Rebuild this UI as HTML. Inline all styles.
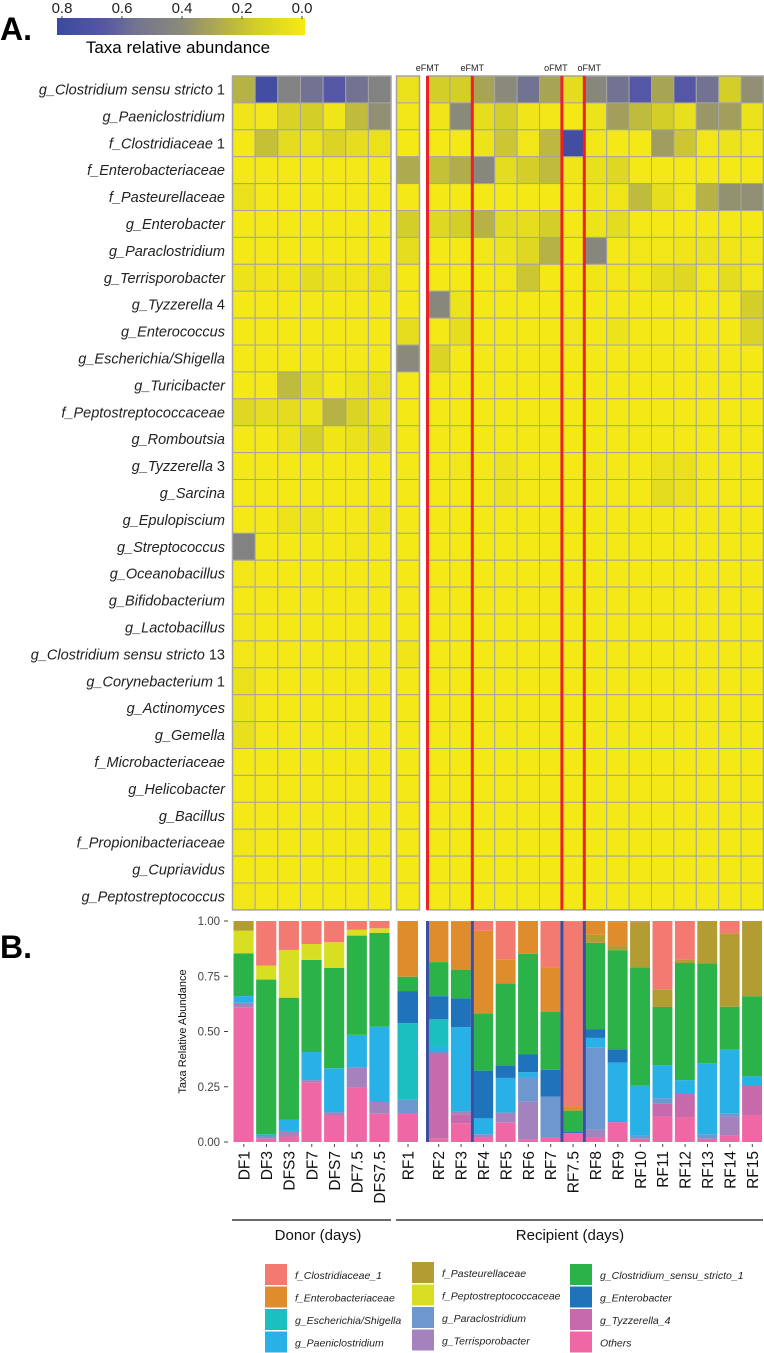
<!DOCTYPE html>
<html><head><meta charset="utf-8">
<style>
html,body{margin:0;padding:0;background:#fff;}
svg{display:block;font-family:"Liberation Sans",sans-serif;}
</style></head>
<body>
<svg id="fig" width="764" height="1353" viewBox="0 0 764 1353" xmlns="http://www.w3.org/2000/svg">
<defs>
<linearGradient id="cbgrad" x1="0" x2="1" y1="0" y2="0">
<stop offset="0" stop-color="#3a4aa2"/>
<stop offset="0.19" stop-color="#5656a6"/>
<stop offset="0.31" stop-color="#727292"/>
<stop offset="0.5" stop-color="#8a8a7a"/>
<stop offset="0.62" stop-color="#a8a455"/>
<stop offset="0.81" stop-color="#d4cf28"/>
<stop offset="1" stop-color="#f6ea15"/>
</linearGradient>
</defs>
<text x="0" y="40" font-size="32" font-weight="bold">A.</text>
<text x="0" y="958" font-size="32" font-weight="bold">B.</text>
<g>
<rect x="57" y="18" width="248" height="17" fill="url(#cbgrad)"/>
</g>
<text x="178" y="53" font-size="17" text-anchor="middle">Taxa relative abundance</text>
<g id="cbticks"></g>
<g id="heat"></g>
<g id="bars"></g>
<g id="legend"></g>
</svg>
<script>
const NS="http://www.w3.org/2000/svg";
const samples=["DF1","DF3","DFS3","DF7","DFS7","DF7.5","DFS7.5","RF1","RF2","RF3","RF4","RF5","RF6","RF7","RF7.5","RF8","RF9","RF10","RF11","RF12","RF13","RF14","RF15"];
const taxaRows=[["g_Clostridium sensu stricto"," 1"],["g_Paeniclostridium",""],["f_Clostridiaceae"," 1"],["f_Enterobacteriaceae",""],["f_Pasteurellaceae",""],["g_Enterobacter",""],["g_Paraclostridium",""],["g_Terrisporobacter",""],["g_Tyzzerella"," 4"],["g_Enterococcus",""],["g_Escherichia/Shigella",""],["g_Turicibacter",""],["f_Peptostreptococcaceae",""],["g_Romboutsia",""],["g_Tyzzerella"," 3"],["g_Sarcina",""],["g_Epulopiscium",""],["g_Streptococcus",""],["g_Oceanobacillus",""],["g_Bifidobacterium",""],["g_Lactobacillus",""],["g_Clostridium sensu stricto"," 13"],["g_Corynebacterium"," 1"],["g_Actinomyces",""],["g_Gemella",""],["f_Microbacteriaceae",""],["g_Helicobacter",""],["g_Bacillus",""],["f_Propionibacteriaceae",""],["g_Cupriavidus",""],["g_Peptostreptococcus",""]];
const colorbarTicks=["0.8","0.6","0.4","0.2","0.0"];
const colorbarTickValues=[0.8,0.6,0.4,0.2,0.0];
const h1=[0.25,0.8,0.45,0.55,0.7,0.55,0.45, 0.05, 0.15,0.15,0.3,0.4,0.55,0.3,0.08,0.42,0.55,0.7,0.3,0.7,0.55,0.15,0.38];
const h2=[0.03,0.02,0.13,0.15,0.03,0.22,0.38, 0.02, 0.03,0.4,0.07,0.15,0.03,0.02,0.01,0.04,0.32,0.22,0.15,0.06,0.35,0.32,0.05];
const h3=[0.01,0.2,0.08,0.05,0.12,0.07,0.05, 0.01, 0.01,0.01,0.04,0.18,0.02,0.23,0.8,0.02,0.01,0.01,0.33,0.18,0.02,0.04,0.02];
const h4=[0.01,0.01,0.01,0.01,0.01,0.01,0.01, 0.28, 0.2,0.27,0.42,0.08,0.15,0.22,0.03,0.06,0.1,0.01,0.01,0.01,0.01,0.01,0.01];
const h5=[0.05,0.01,0.01,0.01,0.01,0.01,0.01, 0.01, 0.01,0.01,0.01,0.01,0.01,0.01,0.01,0.03,0.03,0.22,0.07,0.02,0.25,0.37,0.38];
const h6=[0.01,0.01,0.01,0.01,0.01,0.01,0.01, 0.15, 0.1,0.15,0.25,0.08,0.07,0.15,0.01,0.04,0.08,0.01,0.01,0.01,0.01,0.01,0.01];
const h7=[0.01,0.01,0.01,0.01,0.01,0.01,0.01, 0.07, 0.01,0.01,0.02,0.04,0.1,0.25,0.01,0.42,0.01,0.02,0.02,0.03,0.04,0.03,0.02];
const h8=[0.04,0.03,0.03,0.08,0.04,0.03,0.05, 0.01, 0.01,0.01,0.01,0.02,0.18,0.01,0.01,0.03,0.02,0.02,0.07,0.1,0.02,0.08,0.02];
const h9=[0.01,0.01,0.01,0.01,0.01,0.01,0.01, 0.01, 0.42,0.04,0.01,0.01,0.01,0.01,0.01,0.01,0.01,0.01,0.01,0.01,0.01,0.01,0.15];
const h10=[0.01,0.01,0.01,0.01,0.01,0.01,0.01, 0.07, 0.01,0.07,0.01,0.01,0.01,0.01,0.02,0.01,0.04,0.01,0.01,0.01,0.01,0.01,0.12];
const h11=[0.01,0.01,0.01,0.01,0.01,0.01,0.01, 0.4, 0.12,0.01,0.01,0.01,0.01,0.01,0.01,0.01,0.01,0.01,0.01,0.01,0.01,0.01,0.01];
const h12=[0.01,0.01,0.22,0.08,0.01,0.04,0.05, 0.01, 0.01,0.01,0.01,0.01,0.01,0.01,0.01,0.01,0.01,0.01,0.01,0.01,0.01,0.01,0.01];
const h13=[0.1,0.07,0.08,0.04,0.25,0.12,0.04, 0.01, 0.01,0.01,0.01,0.01,0.01,0.01,0.01,0.01,0.01,0.01,0.01,0.01,0.01,0.01,0.01];
const h14=[0.01,0.01,0.04,0.14,0.03,0.05,0.07, 0.01, 0.01,0.01,0.01,0.01,0.01,0.01,0.01,0.01,0.01,0.01,0.01,0.01,0.01,0.01,0.01];
const h15=[0.01,0.01,0.01,0.01,0.01,0.01,0.01, 0.01, 0.01,0.02,0.01,0.04,0.01,0.01,0.01,0.02,0.01,0.01,0.05,0.05,0.01,0.01,0.01];
const h16=[0.01,0.01,0.01,0.01,0.01,0.01,0.01, 0.01, 0.01,0.01,0.01,0.04,0.01,0.01,0.01,0.01,0.01,0.01,0.08,0.05,0.01,0.01,0.01];
const h17=[0.01,0.01,0.04,0.04,0.01,0.01,0.03, 0.01, 0.01,0.01,0.01,0.01,0.01,0.01,0.01,0.01,0.01,0.01,0.01,0.01,0.01,0.01,0.01];
const h18=[0.45,0.01,0.01,0.01,0.01,0.02,0.01, 0.01, 0.01,0.01,0.01,0.01,0.01,0.01,0.01,0.01,0.01,0.01,0.01,0.01,0.01,0.01,0.01];
const h19=[0.02,0.01,0.01,0.01,0.01,0.01,0.01, 0.01, 0.01,0.01,0.01,0.01,0.01,0.01,0.01,0.01,0.01,0.01,0.01,0.01,0.01,0.01,0.01];
const h20=[0.01,0.01,0.01,0.01,0.01,0.01,0.01, 0.01, 0.01,0.01,0.01,0.01,0.01,0.01,0.01,0.01,0.01,0.01,0.01,0.01,0.01,0.01,0.01];
const h21=[0.02,0.01,0.01,0.01,0.01,0.01,0.01, 0.01, 0.01,0.01,0.01,0.01,0.01,0.01,0.01,0.01,0.01,0.01,0.01,0.01,0.01,0.01,0.01];
const h22=[0.02,0.01,0.01,0.01,0.01,0.01,0.01, 0.03, 0.01,0.01,0.01,0.01,0.01,0.01,0.01,0.01,0.01,0.01,0.01,0.01,0.01,0.01,0.01];
const h23=[0.05,0.01,0.01,0.01,0.01,0.01,0.01, 0.01, 0.01,0.01,0.01,0.01,0.01,0.01,0.01,0.01,0.01,0.01,0.01,0.01,0.01,0.01,0.01];
const h24=[0.04,0.01,0.01,0.01,0.01,0.01,0.01, 0.01, 0.01,0.01,0.01,0.01,0.01,0.01,0.01,0.01,0.01,0.01,0.01,0.01,0.01,0.01,0.01];
const h25=[0.06,0.01,0.01,0.01,0.01,0.01,0.01, 0.01, 0.01,0.01,0.01,0.01,0.01,0.01,0.01,0.01,0.01,0.01,0.01,0.01,0.01,0.01,0.01];
const h26=[0.01,0.01,0.01,0.01,0.01,0.01,0.01, 0.01, 0.01,0.01,0.01,0.01,0.01,0.01,0.01,0.01,0.01,0.01,0.01,0.01,0.01,0.01,0.01];
const h27=[0.01,0.01,0.01,0.01,0.01,0.01,0.01, 0.01, 0.01,0.01,0.01,0.01,0.01,0.01,0.01,0.01,0.01,0.01,0.01,0.01,0.01,0.01,0.01];
const h28=[0.01,0.01,0.01,0.01,0.01,0.01,0.01, 0.01, 0.01,0.01,0.01,0.01,0.01,0.01,0.01,0.01,0.01,0.01,0.01,0.01,0.01,0.01,0.01];
const h29=[0.02,0.01,0.01,0.01,0.01,0.01,0.01, 0.01, 0.01,0.01,0.01,0.01,0.01,0.01,0.01,0.01,0.01,0.01,0.01,0.01,0.01,0.01,0.01];
const h30=[0.01,0.01,0.01,0.01,0.01,0.01,0.01, 0.01, 0.01,0.01,0.01,0.01,0.01,0.01,0.01,0.01,0.01,0.01,0.01,0.01,0.01,0.01,0.01];
const h31=[0.02,0.01,0.01,0.01,0.01,0.01,0.01, 0.01, 0.01,0.01,0.01,0.01,0.01,0.01,0.01,0.01,0.01,0.01,0.01,0.01,0.01,0.01,0.01];
const heatValues=[h1,h2,h3,h4,h5,h6,h7,h8,h9,h10,h11,h12,h13,h14,h15,h16,h17,h18,h19,h20,h21,h22,h23,h24,h25,h26,h27,h28,h29,h30,h31];
const treatmentLabels=["eFMT","eFMT","oFMT","oFMT"];
const treatmentBefore=["RF2","RF4","RF7.5","RF8"];

const seriesNames=["Others","g_Tyzzerella_4","g_Terrisporobacter","g_Paraclostridium","g_Paeniclostridium","g_Escherichia/Shigella","g_Enterobacter","g_Clostridium_sensu_stricto_1","f_Peptostreptococcaceae","f_Pasteurellaceae","f_Enterobacteriaceae","f_Clostridiaceae_1"];
const seriesColors=["#ef67a5","#c76aab","#a482be","#6e96cf","#27b1e6","#1cbfbf","#1f73bb","#2bb34a","#d8df22","#b39c32","#de8c2c","#f27a70"];
const others=[0.61,0.015,0.025,0.27,0.12,0.247,0.128, 0.127, 0.015,0.085,0.02,0.087,0.01,0.02,0.04,0.02,0.09,0.015,0.115,0.113,0.015,0.03,0.122];
const tyzzerella4=[0,0,0,0,0,0,0, 0, 0.39,0.04,0,0,0,0,0,0,0,0,0.06,0.104,0,0,0.136];
const terrisporobacter=[0.02,0.01,0.025,0.01,0.014,0.089,0.053, 0, 0,0.015,0.015,0.046,0.172,0,0,0.035,0,0,0,0,0,0.085,0];
const paraclostridium=[0,0,0,0,0,0,0, 0.064, 0,0,0,0,0.11,0.185,0,0.374,0,0.014,0.023,0,0.02,0.015,0];
const paeniclostridium=[0.03,0.01,0.05,0.127,0.2,0.149,0.341, 0, 0.025,0.38,0.072,0.157,0.024,0,0,0.042,0.27,0.226,0.15,0.063,0.322,0.288,0.039];
const escherichia=[0,0,0,0,0,0,0, 0.347, 0.125,0,0,0,0,0,0,0,0,0,0,0,0,0,0];
const enterobacter=[0,0,0,0,0,0,0, 0.145, 0.105,0.13,0.216,0.057,0.08,0.122,0.005,0.038,0.06,0,0,0,0,0,0];
const clostridiumSS1=[0.194,0.70,0.553,0.417,0.454,0.449,0.424, 0.065, 0.154,0.13,0.259,0.371,0.456,0.263,0.097,0.392,0.448,0.535,0.263,0.53,0.451,0.194,0.363];
const peptostrep=[0.102,0.063,0.216,0.072,0.116,0.026,0.021, 0, 0,0,0,0,0,0,0,0,0,0,0,0,0,0,0];
const pasteurellaceae=[0.044,0,0,0,0,0,0, 0, 0,0,0,0,0,0,0,0.037,0.023,0.205,0.08,0.014,0.192,0.332,0.34];
const enterobacteriaceae=[0,0,0,0,0,0,0, 0.252, 0.184,0.217,0.374,0.109,0.148,0.2,0.019,0.063,0.104,0,0,0,0,0,0];
const clostridiaceae1=[0,0.195,0.131,0.104,0.094,0.04,0.033, 0, 0,0,0.044,0.173,0,0.21,0.835,0,0,0.005,0.312,0.176,0,0.056,0];
const seriesValues=[others,tyzzerella4,terrisporobacter,paraclostridium,paeniclostridium,escherichia,enterobacter,clostridiumSS1,peptostrep,pasteurellaceae,enterobacteriaceae,clostridiaceae1];
const yTicks=[0,0.25,0.5,0.75,1.0];
const yTickLabels=["0.00","0.25","0.50","0.75","1.00"];
const legendOrder=["f_Clostridiaceae_1","f_Enterobacteriaceae","g_Escherichia/Shigella","g_Paeniclostridium","f_Pasteurellaceae","f_Peptostreptococcaceae","g_Paraclostridium","g_Terrisporobacter","g_Clostridium_sensu_stricto_1","g_Enterobacter","g_Tyzzerella_4","Others"];

function colX(i){ if(i<7) return 232.5+i*22.65; if(i===7) return 396.5; return 427.5+(i-8)*22.4; }
function colW(i){ if(i<7) return 22.65; if(i===7) return 23; return 22.4; }
const rowTop=76, rowH=26.9;
function rowY(r){ return rowTop+r*rowH; }
const stops=[[0,[246,234,21]],[0.15,[212,207,40]],[0.3,[168,164,85]],[0.4,[138,138,122]],[0.55,[114,114,146]],[0.7,[86,86,166]],[0.85,[58,74,162]]];
function heatColor(v){
  if(v<=0) v=0; if(v>=0.85) v=0.85;
  for(let k=0;k<stops.length-1;k++){const a=stops[k],b=stops[k+1];
    if(v>=a[0]&&v<=b[0]){const t=(v-a[0])/(b[0]-a[0]);
      const c=a[1].map((x,j)=>Math.round(x+(b[1][j]-x)*t));return `rgb(${c[0]},${c[1]},${c[2]})`;}}
  return "rgb(58,74,162)";
}
function cbX(v){ return 302-(v/0.8)*240; }
const barY0=1142, barY1=921;
function yScale(v){ return barY0-(barY0-barY1)*v; }
function mk(tag,attrs,parent,text){const e=document.createElementNS(NS,tag);for(const k in attrs)e.setAttribute(k,attrs[k]);if(text!==undefined)e.textContent=text;parent.appendChild(e);return e;}

const cbt=document.getElementById('cbticks');
colorbarTicks.forEach((t,i)=>{
  const x=cbX(colorbarTickValues[i]);
  const tx=mk('text',{x:x,y:13,'font-size':15,'text-anchor':'middle',fill:'#222'},cbt,t);
  
  
  const tk=mk('line',{x1:x,x2:x,y1:16,y2:19,stroke:'#444','stroke-width':1},cbt);
  
  
});

const heat=document.getElementById('heat');
taxaRows.forEach((lab,r)=>{
  const t=mk('text',{x:225,y:rowY(r)+rowH/2+5,'font-size':14.5,'text-anchor':'end',fill:'#222'},heat);
  
  
  mk('tspan',{'font-style':'italic'},t,lab[0]);
  if(lab[1]) mk('tspan',{},t,lab[1]);
  heatValues[r].forEach((v,c)=>{
    const rc=mk('rect',{x:colX(c),y:rowY(r),width:colW(c),height:rowH,fill:heatColor(v),stroke:'#a4a4a4','stroke-width':1},heat);
    
    
  });
});
[[232.5,391],[396.5,419.5],[427.5,763.5]].forEach(b=>{
  const o=mk('rect',{x:b[0],y:rowTop,width:b[1]-b[0],height:rowH*taxaRows.length,fill:'none',stroke:'#a4a4a4','stroke-width':1.5},heat);
  
  
});
const labelShift=[0,0,-6,5];
treatmentBefore.forEach((s,i)=>{
  const x=colX(samples.indexOf(s));
  const ln=mk('line',{x1:x,x2:x,y1:rowTop,y2:rowY(taxaRows.length),stroke:'#ec2125','stroke-width':3},heat);
  
  
  const tl=mk('text',{x:x+labelShift[i],y:71,'font-size':9,'text-anchor':'middle',fill:'#222'},heat,treatmentLabels[i]);
  
  
});

const bars=document.getElementById('bars');
samples.forEach((s,c)=>{
  let acc=0;
  const bx=colX(c)+1, bw=colW(c)-2.5;
  seriesValues.forEach((arr,k)=>{
    const v=arr[c]; if(v<=0){return;}
    const top=acc+v;
    const y1=yScale(Math.min(top,1)), y0=yScale(acc);
    const r=mk('rect',{x:bx,y:y1,width:bw,height:Math.max(0,y0-y1),fill:seriesColors[k]},bars);
    
    
    acc=top;
  });
  if(acc<1){
    let kk=seriesValues.length-1; for(let k=seriesValues.length-1;k>=0;k--){if(seriesValues[k][c]>0){kk=k;break;}}
    const r=mk('rect',{x:bx,y:yScale(1),width:bw,height:yScale(acc)-yScale(1),fill:seriesColors[kk]},bars);
    
    
  }
  const cx=colX(c)+colW(c)/2;
  const tk=mk('line',{x1:cx,x2:cx,y1:barY0+2,y2:barY0+5,stroke:'#444','stroke-width':1},bars);
  
  
  const lb=mk('text',{x:0,y:0,'font-size':15.5,'text-anchor':'end',fill:'#111',transform:`translate(${cx+5.5},${barY0+9}) rotate(-90)`},bars,s);
  
  
});
treatmentBefore.forEach(s=>{
  const x=colX(samples.indexOf(s));
  const ln=mk('line',{x1:x,x2:x,y1:barY1,y2:barY0,stroke:'#3a4fa0','stroke-width':3},bars);
  
  
});
yTicks.forEach((v,i)=>{
  const y=yScale(v);
  const t=mk('text',{x:220,y:y+4,'font-size':11.5,'text-anchor':'end',fill:'#444'},bars,yTickLabels[i]);
  
  
  const tk=mk('line',{x1:224,x2:228,y1:y,y2:y,stroke:'#444','stroke-width':1},bars);
  
  
});
const yt=mk('text',{x:0,y:0,'font-size':11,'text-anchor':'middle',fill:'#111',transform:`translate(186,${(barY0+barY1)/2}) rotate(-90)`},bars,'Taxa Relative Abundance');



[[232,391,'Donor (days)','donor'],[396,763,'Recipient (days)','recipient']].forEach(g=>{
  const l=mk('line',{x1:g[0],x2:g[1],y1:1220,y2:1220,stroke:'#111','stroke-width':1.2},bars);
  
  
  const t=mk('text',{x:g[3]==='donor'?318:570,y:1240,'font-size':15,'text-anchor':'middle',fill:'#111'},bars,g[2]);
  
  
});

const leg=document.getElementById('legend');
const legCols=[265,412,570];
legendOrder.forEach((n,i)=>{
  const col=Math.floor(i/4), row=i%4;
  const x=legCols[col], y=1264+row*22.5-(col===1?2:0);
  const k=seriesNames.indexOf(n);
  const sw=mk('rect',{x:x,y:y,width:22,height:21,fill:seriesColors[k]},leg);
  
  
  const t=mk('text',{x:x+30,y:y+15,'font-size':10.5,'font-style':'italic',fill:'#222'},leg,n);
  
  
});
</script>
</body></html>
